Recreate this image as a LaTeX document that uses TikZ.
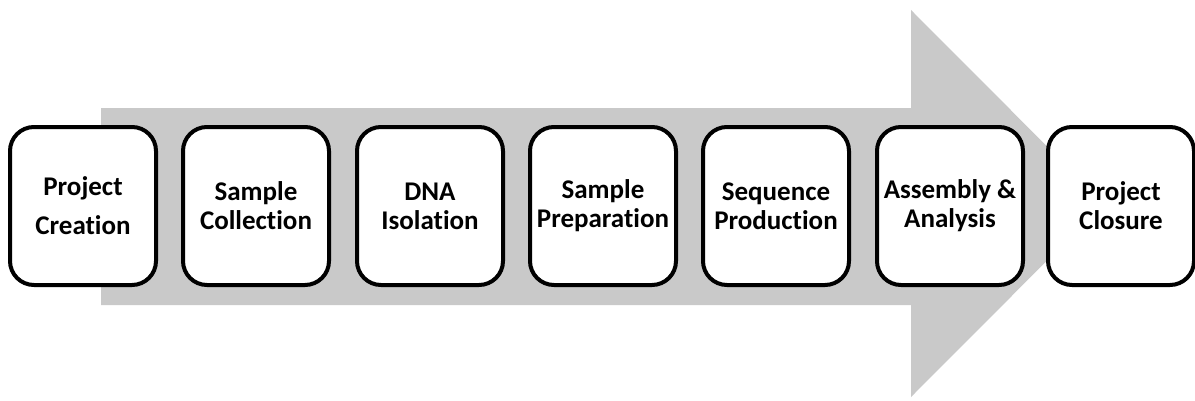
\documentclass[tikz,border=0pt]{standalone}
\usepackage{fontspec}
\setmainfont{Carlito}[Ligatures=NoCommon]
\usepackage{tikz}
\usetikzlibrary{backgrounds}
\pgfdeclarelayer{edgelayer}
\pgfdeclarelayer{nodelayer}
\pgfsetlayers{edgelayer,nodelayer,main}
\definecolor{flowgray}{RGB}{201,201,201}
\tikzstyle{stage}=[rectangle, rounded corners=24pt, fill=white, draw=black, line width=4pt, minimum width=146pt, minimum height=158pt, align=center, font=\fontsize{27}{29}\selectfont\bfseries, inner sep=0pt]
\tikzstyle{flow}=[fill=flowgray, draw=none]

\begin{document}
\begin{tikzpicture}[x=1pt, y=1pt]
            \useasboundingbox (0, 0) rectangle (1195, 400);
            \begin{pgfonlayer}{nodelayer}
                \node [style=stage] (creation) at (83, 194) {Project\\[10pt]Creation};
                \node [style=stage] (collection) at (256, 194) {Sample\\Collection};
                \node [style=stage] (isolation) at (430, 194) {DNA\\Isolation};
                \node [style=stage] (preparation) at (603, 194) {Sample\\Preparation};
                \node [style=stage] (production) at (776, 194) {Sequence\\Production};
                \node [style=stage] (analysis) at (950, 194) {Assembly \&\\Analysis};
                \node [style=stage] (closure) at (1121, 194) {Project\\Closure};
            \end{pgfonlayer}
            \begin{pgfonlayer}{edgelayer}
                \coordinate (tip) at (1104, 196.5);
                \fill [style=flow] (101, 95) -- (911, 95) -- (911, 3) -- (tip)
                    -- (911, 390) -- (911, 292) -- (101, 292) -- cycle;
            \end{pgfonlayer}
        \end{tikzpicture}
\end{document}
